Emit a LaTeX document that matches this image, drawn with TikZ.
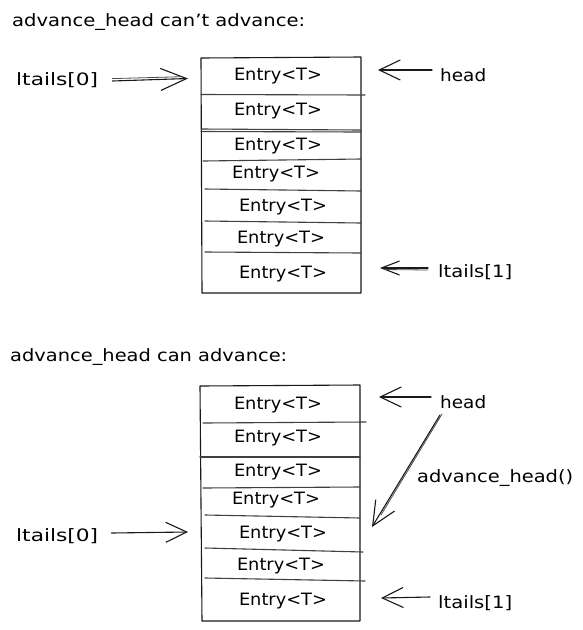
\documentclass[tikz,border=0pt]{standalone}
\usepackage{fontspec}
\usepackage{graphicx}
\setmainfont{DejaVu Sans}
\usetikzlibrary{arrows.meta}
\newcommand{\fitw}[2]{\resizebox{#1}{\height}{#2}}
\tikzset{
  hand/.style={font=\fontsize{17}{20}\selectfont, inner sep=0pt, text=black},
  lbl/.style={hand, anchor=west},
  entrytext/.style={hand},
  frame/.style={draw=black!90, line width=1.1pt, line join=round},
  divider/.style={draw=black!75, line width=1.1pt, line cap=round},
  arr/.style={draw=black!90, line width=1.1pt, line cap=round,
    -{Straight Barb[length=21pt,width=20pt,line width=1.1pt]}},
  arrtwin/.style={draw=black!70, line width=0.8pt, line cap=round},
}
\begin{document}
\begin{tikzpicture}[x=1pt,y=-1pt]
\useasboundingbox (0,0) rectangle (582,630);
\fill[white] (0,0) rectangle (582,630);

% ---------- titles ----------
\node[lbl] (title1) at (12,22) {\fitw{293pt}{advance\_head can't advance:}};
\node[lbl] (title2) at (10,357) {\fitw{277pt}{advance\_head can advance:}};

% ---------- top stack ----------
\draw[frame] (201,58) -- (361,57) -- (361,293) -- (202,293) -- cycle;
\draw[divider] (201,94.5) -- (365,95);
\draw[divider] (201,129) -- (361,130);
\draw[divider] (201,131.5) -- (361,132);
\draw[divider] (203,161) -- (361,159);
\draw[divider] (205,189) -- (361,191);
\draw[divider] (205,221) -- (361,223);
\draw[divider] (205,252) -- (361,253);

\node[entrytext] (a1) at (278,76) {\fitw{88pt}{Entry<T>}};
\node[entrytext] (a2) at (278,111) {\fitw{88pt}{Entry<T>}};
\node[entrytext] (a3) at (278,146) {\fitw{88pt}{Entry<T>}};
\node[entrytext] (a4) at (276,174) {\fitw{88pt}{Entry<T>}};
\node[entrytext] (a5) at (283,207) {\fitw{88pt}{Entry<T>}};
\node[entrytext] (a6) at (281,239) {\fitw{88pt}{Entry<T>}};
\node[entrytext] (a7) at (283,274) {\fitw{88pt}{Entry<T>}};

\node[lbl] (lt0a) at (16,80) {\fitw{82pt}{ltails[0]}};
\node[lbl] (heada) at (440,75) {\fitw{46pt}{head}};
\node[lbl] (lt1a) at (438,272) {\fitw{74pt}{ltails[1]}};

\coordinate (tlt0a) at (188,78.5);
\coordinate (theada) at (378,70);
\coordinate (tlt1a) at (380,268);

\draw[arr, -{Straight Barb[length=26pt,width=22pt,line width=1.1pt]}] ([xshift=14pt,yshift=-1pt]lt0a.east) -- (tlt0a);
\draw[arrtwin] ([xshift=14pt,yshift=1.4pt]lt0a.east) -- ([xshift=-6pt,yshift=1.8pt]tlt0a);
\draw[arr] ([xshift=-8pt,yshift=5pt]heada.west) -- (theada);
\draw[arr, -{Straight Barb[length=18pt,width=14pt,line width=1.1pt]}] ([xshift=-10pt,yshift=4pt]lt1a.west) -- (tlt1a);
\draw[arrtwin] ([xshift=-10pt,yshift=2pt]lt1a.west) -- ([xshift=4pt,yshift=-1.5pt]tlt1a);

% ---------- bottom stack ----------
\draw[frame] (200,386) -- (360,385) -- (360,621) -- (202,621) -- cycle;
\draw[divider] (203,423) -- (366,422);
\draw[divider] (200,457) -- (360,457);
\draw[divider] (203,488) -- (360,487);
\draw[divider] (205,515) -- (360,518);
\draw[divider] (205,548) -- (363,552);
\draw[divider] (205,578) -- (365,581);

\node[entrytext] (b1) at (278,405) {\fitw{88pt}{Entry<T>}};
\node[entrytext] (b2) at (278,438) {\fitw{88pt}{Entry<T>}};
\node[entrytext] (b3) at (278,472) {\fitw{88pt}{Entry<T>}};
\node[entrytext] (b4) at (276,500) {\fitw{88pt}{Entry<T>}};
\node[entrytext] (b5) at (283,534) {\fitw{88pt}{Entry<T>}};
\node[entrytext] (b6) at (281,566) {\fitw{88pt}{Entry<T>}};
\node[entrytext] (b7) at (283,601) {\fitw{88pt}{Entry<T>}};

\node[lbl] (headb) at (440,402) {\fitw{46pt}{head}};
\node[lbl] (adv) at (417,478) {\fitw{156pt}{advance\_head()}};
\node[lbl] (lt0b) at (16,536) {\fitw{82pt}{ltails[0]}};
\node[lbl] (lt1b) at (438,603) {\fitw{74pt}{ltails[1]}};

\coordinate (theadb) at (379,397);
\coordinate (tadv) at (372,527);
\coordinate (tlt0b) at (188,532);
\coordinate (tlt1b) at (381,598);

\draw[arr] ([xshift=-9pt,yshift=5pt]headb.west) -- (theadb);
\draw[arr, -{Straight Barb[length=24pt,width=22pt,line width=1.1pt]}] ([xshift=0pt,yshift=-13pt]headb.west) -- (tadv);
\draw[arrtwin] ([xshift=2pt,yshift=-12pt]headb.west) -- ([xshift=9pt,yshift=12pt]tadv);
\draw[arr] ([xshift=13pt,yshift=3pt]lt0b.east) -- (tlt0b);
\draw[arr] ([xshift=-8pt,yshift=6pt]lt1b.west) -- (tlt1b);
\end{tikzpicture}
\end{document}
